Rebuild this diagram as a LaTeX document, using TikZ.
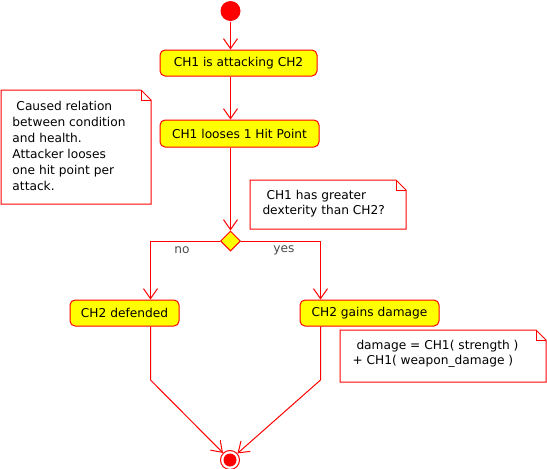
\documentclass[tikz,border=0pt]{standalone}
\usepackage{fontspec}
\setmainfont{DejaVu Sans}
\usetikzlibrary{arrows.meta,shapes.geometric,calc}
\definecolor{umlred}{RGB}{255,0,0}
\definecolor{umlyellow}{RGB}{255,255,0}
\begin{document}
\begin{tikzpicture}[x=1pt,y=-1pt,
  font=\fontsize{12.2}{14}\selectfont,
  line width=1pt,
  act/.style={draw=umlred,fill=umlyellow,rounded corners=5pt,inner sep=0pt,minimum height=26pt,text=black},
  arr/.style={draw=umlred,-{Straight Barb[length=10pt,width=14pt,line width=1pt]}},
  flow/.style={draw=umlred},
  notetext/.style={align=left,inner ysep=0pt,inner xsep=0pt,text=black,font=\fontsize{12.2}{16}\selectfont},
  notebox/.style={draw=umlred,fill=white},
  lbl/.style={text=black!70,inner sep=0pt}]
\useasboundingbox (0,0) rectangle (547,469);
\fill[white] (0,0) rectangle (547,469);

% nodes
\node[circle,fill=umlred,minimum size=20pt,inner sep=0pt] (start) at (230.5,11) {};
\node[act,minimum width=157pt] (act1) at (238.5,63) {CH1 is attacking CH2};
\node[act,minimum width=159pt,minimum height=27pt] (act2) at (239.5,133.5) {CH1 looses 1 Hit Point};
\node[diamond,draw=umlred,fill=umlyellow,minimum width=20pt,minimum height=20pt,inner sep=0pt] (dec) at (230.5,241) {};
\node[act,minimum width=109pt] (def) at (124.5,313) {CH2 defended};
\node[act,minimum width=139pt] (dmg) at (369.5,313) {CH2 gains damage};
\node[circle,draw=umlred,minimum size=19pt,inner sep=0pt,line width=1pt] (end) at (230,460) {};
\node[circle,fill=umlred,minimum size=13pt,inner sep=0pt] (endin) at (end) {};

% notes
\coordinate (n1nw) at (1,90); \coordinate (n1se) at (151,204);
\draw[notebox] (n1nw) -- ($(n1nw -| n1se)+(-10pt,0)$) -- ($(n1nw -| n1se)+(0,-10pt)$) -- (n1se) -- (n1se -| n1nw) -- cycle;
\draw[draw=umlred,line width=0.5pt] ($(n1nw -| n1se)+(-10pt,0)$) -- ($(n1nw -| n1se)+(-10pt,-10pt)$) -- ($(n1nw -| n1se)+(0,-10pt)$);
\node[notetext,anchor=west] (note1) at (12,146) {\hspace*{4pt}Caused relation\\between condition\\and health.\\Attacker looses\\one hit point per\\attack.};

\coordinate (n2nw) at (250,180); \coordinate (n2se) at (406,229);
\draw[notebox] (n2nw) -- ($(n2nw -| n2se)+(-10pt,0)$) -- ($(n2nw -| n2se)+(0,-10pt)$) -- (n2se) -- (n2se -| n2nw) -- cycle;
\draw[draw=umlred,line width=0.5pt] ($(n2nw -| n2se)+(-10pt,0)$) -- ($(n2nw -| n2se)+(-10pt,-10pt)$) -- ($(n2nw -| n2se)+(0,-10pt)$);
\node[notetext,font=\fontsize{12.2}{15}\selectfont,anchor=west] (note2) at (262,203.5) {\hspace*{4pt}CH1 has greater\\dexterity than CH2?};

\coordinate (n3nw) at (340,330); \coordinate (n3se) at (546,382);
\draw[notebox] (n3nw) -- ($(n3nw -| n3se)+(-10pt,0)$) -- ($(n3nw -| n3se)+(0,-10pt)$) -- (n3se) -- (n3se -| n3nw) -- cycle;
\draw[draw=umlred,line width=0.5pt] ($(n3nw -| n3se)+(-10pt,0)$) -- ($(n3nw -| n3se)+(-10pt,-10pt)$) -- ($(n3nw -| n3se)+(0,-10pt)$);
\node[notetext,font=\fontsize{12.2}{15}\selectfont,anchor=west] (note3) at (352,353.5) {\hspace*{4pt}damage = CH1( strength )\\+ CH1( weapon\_damage )};

% connectors
\draw[arr] (start.south) -- (start.south |- act1.north);
\draw[arr] (start |- act1.south) -- (start |- act2.north);
\draw[arr] (start |- act2.south) -- (dec.north);
\coordinate (nl) at (150.5,241);
\coordinate (yl) at (320.5,241);
\draw[arr] (dec.west) -- (nl) -- (nl |- def.north);
\draw[arr] (dec.east) -- (yl) -- (yl |- dmg.north);
\coordinate (lbend) at (150.5,380);
\coordinate (rbend) at (320.5,380);
\draw[arr] (nl |- def.south) -- (lbend) -- (end);
\draw[arr] (yl |- dmg.south) -- (rbend) -- (end);

% labels
\node[lbl] (no) at (182,250) {no};
\node[lbl] (yes) at (284,250) {yes};
\end{tikzpicture}
\end{document}
